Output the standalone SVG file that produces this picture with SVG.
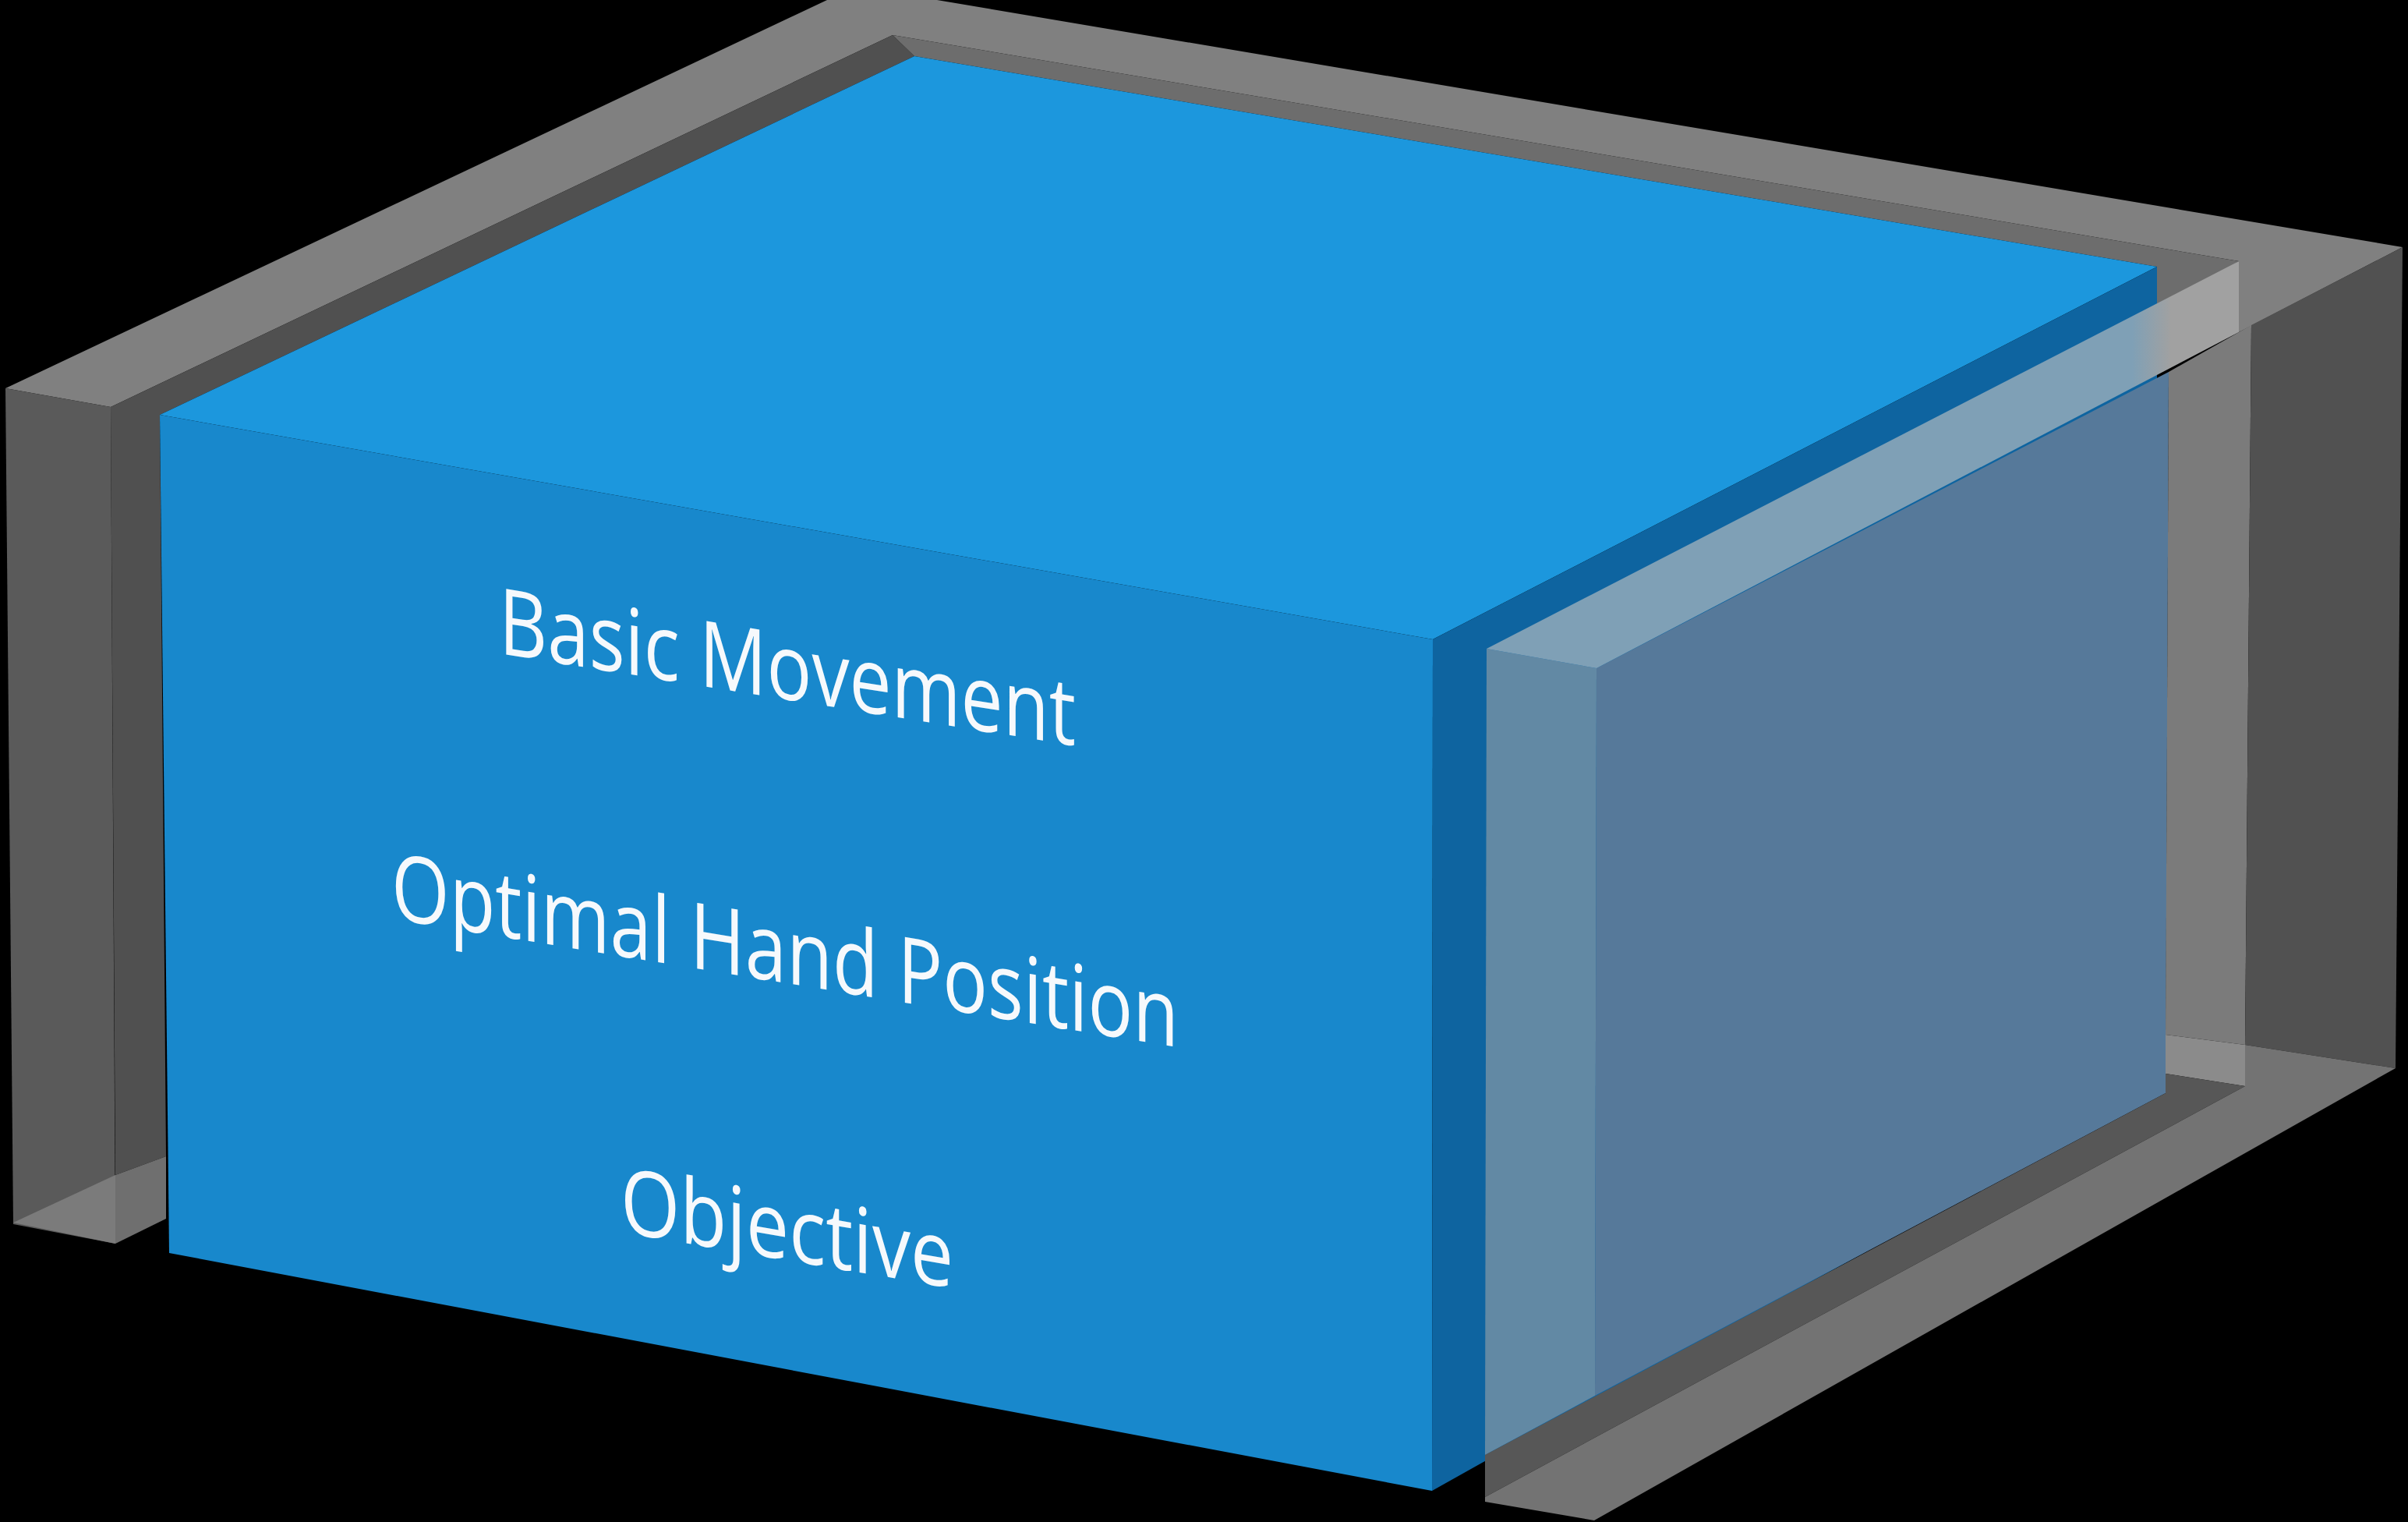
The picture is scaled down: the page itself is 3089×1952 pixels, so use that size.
<svg xmlns="http://www.w3.org/2000/svg" width="3089" height="1952" viewBox="0 0 3089 1952">
<defs>
<style>
.lbl{font-family:"Open Sans","Noto Sans","Liberation Sans",sans-serif;fill:#f6f9fc;font-weight:400}
</style>
<linearGradient id="rtop" gradientUnits="userSpaceOnUse" x1="2735" y1="0" x2="2785" y2="0">
<stop offset="0" stop-color="#7fa0b6"/>
<stop offset="1" stop-color="#a1a1a1"/>
</linearGradient>
</defs>
<rect x="0" y="0" width="3089" height="1952" fill="#000"/>
<g id="frame-back">
<polygon points="7,498 1061,0 1202,0 3082,317 2872,426 2872,335 1145,45 142,522" fill="#808080"/>
<polygon points="142,522 1145,45 1173,72 205,532 213,1483 148,1507" fill="#505050"/>
<polygon points="1145,45 2872,335 2767,400 2767,342 1173,72" fill="#6d6d6d"/>
</g>
<g id="left-wall">
<polygon points="7,498 142,522 148,1595 17,1570" fill="#5a5a5a"/>
<polygon points="17,1568 148,1507 148,1595" fill="#7b7b7b"/>
<polygon points="148,1507 213,1483 213,1563 148,1595" fill="#6f6f6f"/>
</g>
<g id="box">
<polygon points="205,532 1173,72 2767,342 1838,820" fill="#1c97dd"/>
<polygon points="205,532 1838,820 1837,1912 217,1607" fill="#1888cc"/>
<polygon points="1838,820 2767,342 2767,1400 1903,1875 1837,1912" fill="#0e64a0"/>
</g>
<g id="labels">
<text class="lbl" font-size="118" textLength="740" lengthAdjust="spacingAndGlyphs" transform="translate(640,838) skewY(9.1)">Basic Movement</text>
<text class="lbl" font-size="118" textLength="1010" lengthAdjust="spacingAndGlyphs" transform="translate(502,1178) skewY(9.3)">Optimal Hand Position</text>
<text class="lbl" font-size="116" textLength="427" lengthAdjust="spacingAndGlyphs" transform="translate(796,1580) skewY(9.6)">Objective</text>
</g>
<g id="right-wall">
<polygon points="1907,832 2048,857 2046,1790 1905,1866" fill="#6289a4"/>
<polygon points="2048,857 2782,477 2778,1402 2046,1790" fill="#56799a"/>
<polygon points="2782,477 2888,417 2880,1340 2778,1327" fill="#7b7b7b"/>
<polygon points="2888,417 3082,317 3073,1370 2880,1340" fill="#515151"/>
<polygon points="1907,832 2872,335 2872,426 2048,857" fill="url(#rtop)"/>
<polygon points="2778,1327 2880,1340 2880,1393 2778,1377" fill="#8b8b8b"/>
<polygon points="1905,1866 2778,1402 2778,1377 2880,1393 1905,1920" fill="#575757"/>
<polygon points="1905,1920 2880,1393 2880,1340 3073,1370 2045,1950 1905,1926" fill="#737373"/>
</g>
</svg>
